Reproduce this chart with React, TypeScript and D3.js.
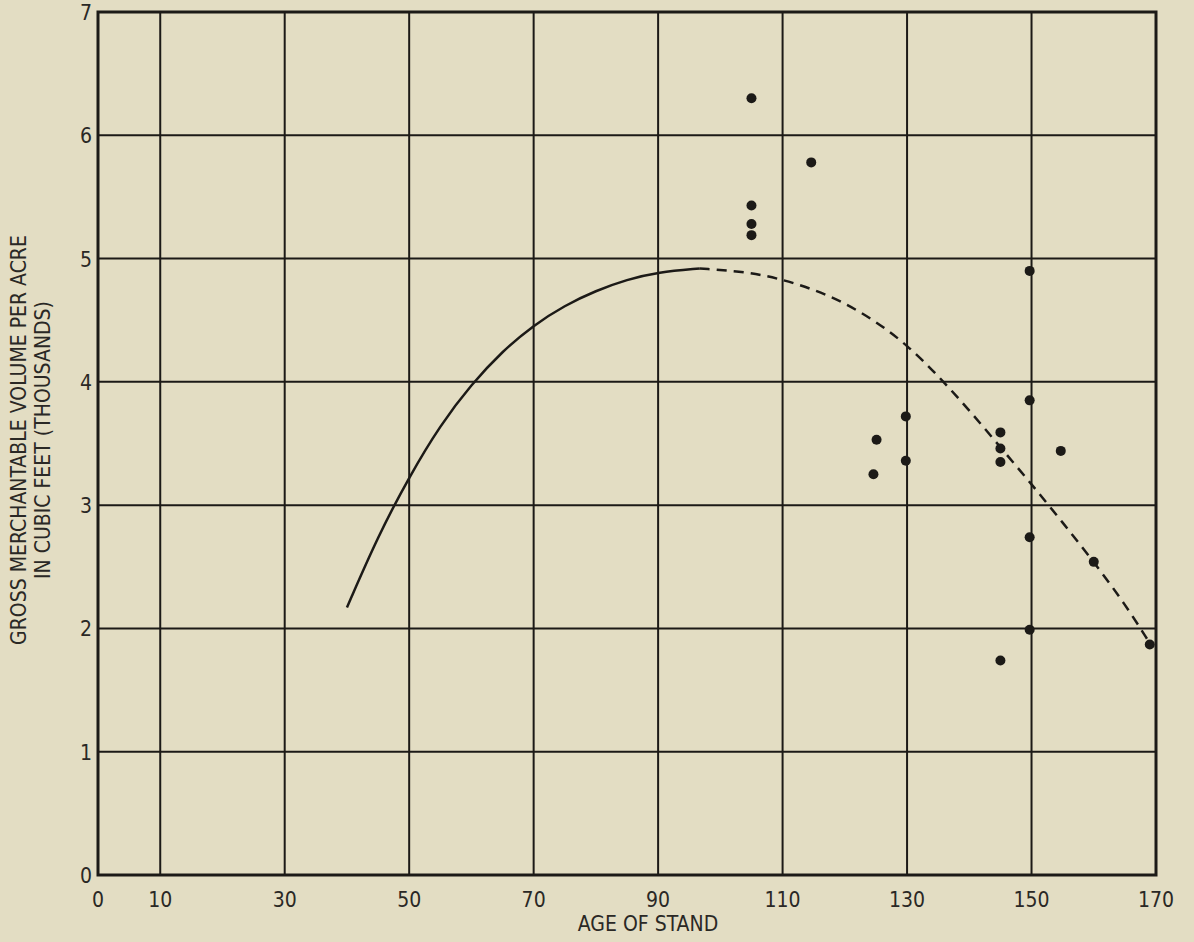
import React from "react";
import * as d3 from "d3";

// observed stands: age vs. gross volume (thousand cu ft / acre)
const pointAges = [105, 105, 105, 105, 114.6, 124.6, 125.1, 129.8, 129.8, 145, 145, 145, 145, 149.7, 149.7, 149.7, 149.7, 154.7, 160, 169];
const pointVolumes = [6.3, 5.43, 5.28, 5.19, 5.78, 3.25, 3.53, 3.72, 3.36, 3.59, 3.46, 3.35, 1.74, 4.9, 3.85, 2.74, 1.99, 3.44, 2.54, 1.87];

// fitted curve, solid part then extrapolated (dashed) part
const solidAges = [40, 45, 50, 55, 60, 65, 70, 75, 80, 85, 90, 96.7];
const solidVolumes = [2.17, 2.75, 3.23, 3.65, 3.98, 4.25, 4.46, 4.62, 4.74, 4.83, 4.89, 4.92];
const dashAges = [96.7, 104.7, 110, 115, 120, 125, 130, 135, 140, 145, 150, 155, 160, 165, 169];
const dashVolumes = [4.92, 4.89, 4.83, 4.75, 4.64, 4.49, 4.3, 4.05, 3.77, 3.47, 3.17, 2.86, 2.54, 2.2, 1.88];

const xTicks = [0, 10, 30, 50, 70, 90, 110, 130, 150, 170];
const yTicks = [0, 1, 2, 3, 4, 5, 6, 7];

const W = 1194, H = 942;
const FONT = "'DejaVu Sans Condensed', 'DejaVu Sans', sans-serif";
const INK = "#1c1a17";

export default function App() {
  const x = d3.scaleLinear().domain([0, 170]).range([98, 1156]);
  const y = d3.scaleLinear().domain([0, 7]).range([875, 12]);

  const line = d3.line<[number, number]>()
    .x(d => x(d[0]))
    .y(d => y(d[1]))
    .curve(d3.curveBasis);

  const solid = solidAges.map((a, i) => [a, solidVolumes[i]] as [number, number]);
  const dashed = dashAges.map((a, i) => [a, dashVolumes[i]] as [number, number]);

  return (
    <svg width={W} height={H} style={{ display: "block", position: "absolute", left: 0, top: 0 }}>
      <rect width={W} height={H} fill="#e3ddc3" />

      {/* grid */}
      {xTicks.filter(t => t > 0 && t < 170).map(t => (
        <line key={"gx" + t} x1={x(t)} x2={x(t)} y1={y(0)} y2={y(7)} stroke={INK} strokeWidth={2} />
      ))}
      {yTicks.filter(t => t > 0 && t < 7).map(t => (
        <line key={"gy" + t} x1={x(0)} x2={x(170)} y1={y(t)} y2={y(t)} stroke={INK} strokeWidth={2} />
      ))}
      <rect x={x(0)} y={y(7)} width={x(170) - x(0)} height={y(0) - y(7)} fill="none" stroke={INK} strokeWidth={3} />

      {/* curve */}
      <path d={line(solid) || ""} fill="none" stroke={INK} strokeWidth={2.5} />
      <path d={line(dashed) || ""} fill="none" stroke={INK} strokeWidth={2.5} strokeDasharray="10,7" />

      {/* points */}
      {pointAges.map((a, i) => (
        <circle key={"p" + i} cx={x(a)} cy={y(pointVolumes[i])} r={5} fill={INK} />
      ))}

      {/* tick labels */}
      {xTicks.map(t => (
        <text key={"tx" + t} x={x(t)} y={907} textAnchor="middle" fontFamily={FONT} fontSize={21} fill="#2a2825">{t}</text>
      ))}
      {yTicks.map(t => (
        <text key={"ty" + t} x={92} y={y(t) + 8} textAnchor="end" fontFamily={FONT} fontSize={21} fill="#2a2825">{t}</text>
      ))}

      {/* axis titles */}
      <text x={648} y={931} textAnchor="middle" fontFamily={FONT} fontSize={21} fill="#2a2825">AGE OF STAND</text>
      <g transform="translate(26,440) rotate(-90)">
        <text x={0} y={0} textAnchor="middle" fontFamily={FONT} fontSize={21} fill="#2a2825">GROSS MERCHANTABLE VOLUME PER ACRE</text>
        <text x={0} y={24} textAnchor="middle" fontFamily={FONT} fontSize={21} fill="#2a2825">IN CUBIC FEET (THOUSANDS)</text>
      </g>
    </svg>
  );
}
